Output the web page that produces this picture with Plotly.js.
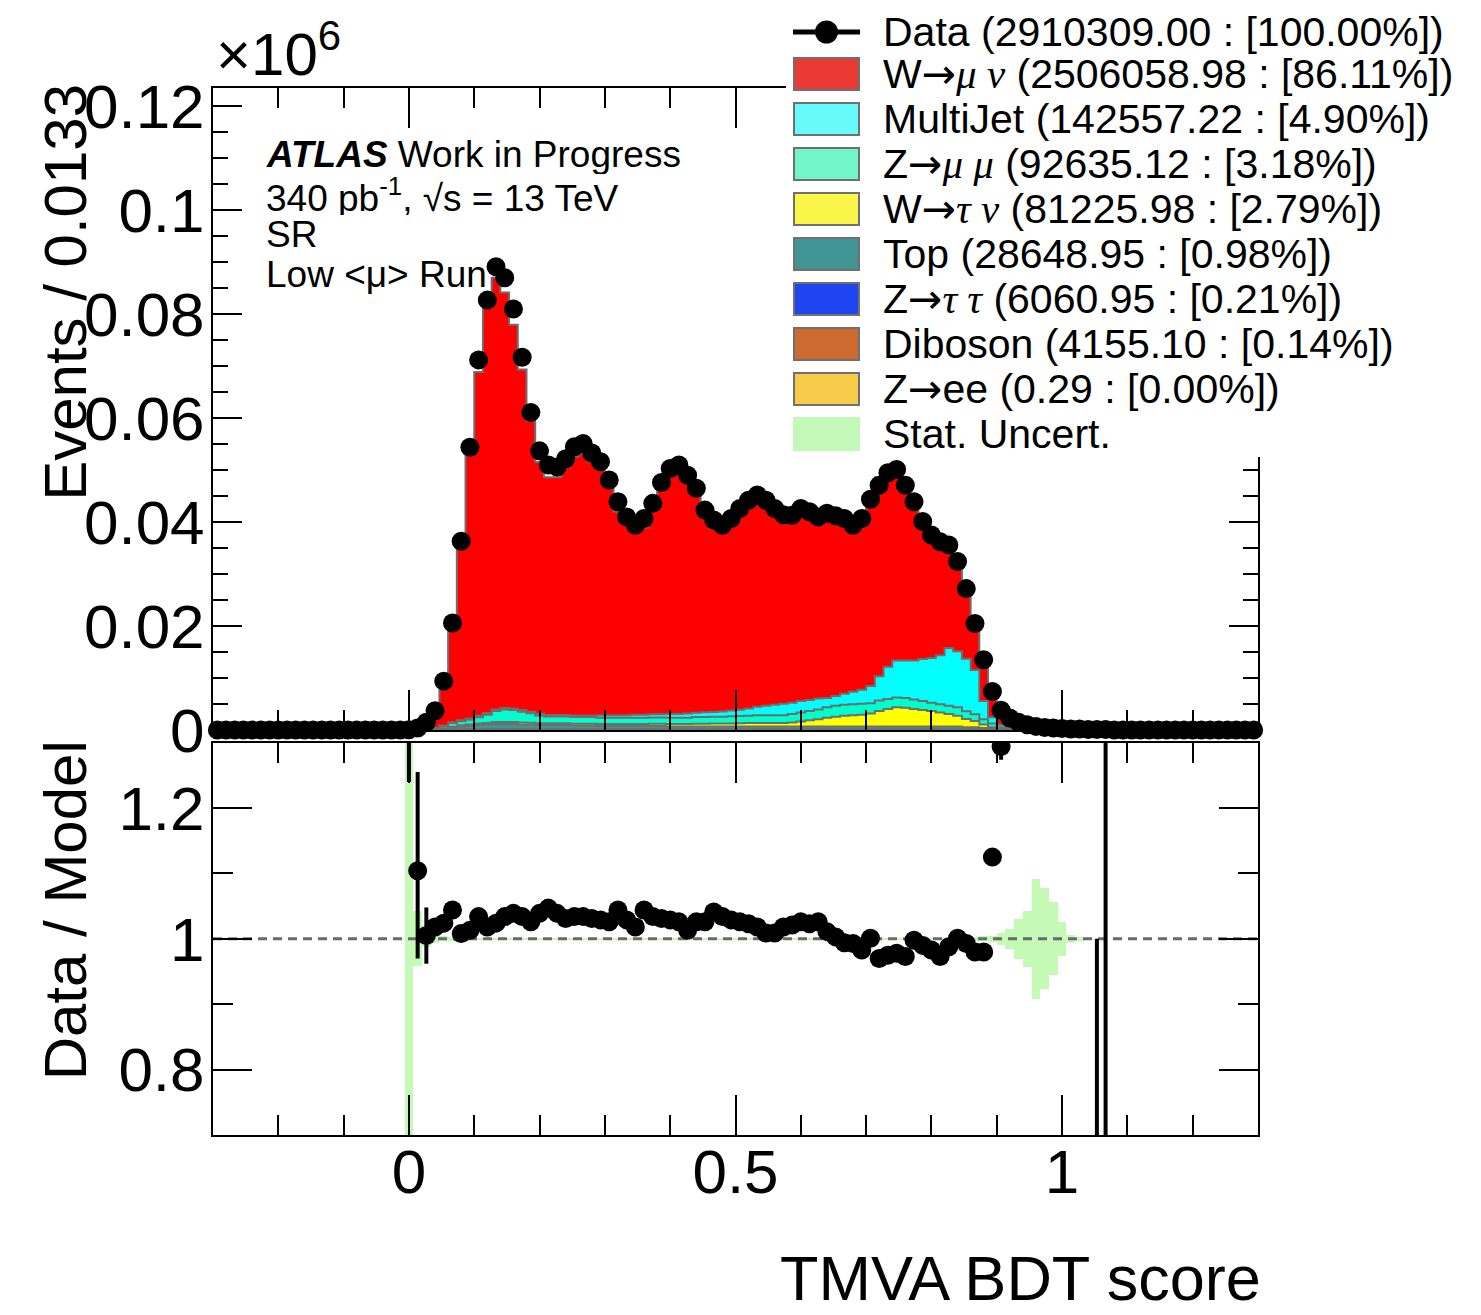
<!DOCTYPE html>
<html><head><meta charset="utf-8">
<script src="https://cdn.plot.ly/plotly-3.0.1.min.js"></script>
<style>body{margin:0;background:#fff}#chart{width:1481px;height:1315px}</style>
</head><body><div id="chart"></div>
<script>
// ---- binning ----
const xMin = -0.3, xMax = 1.3, nBins = 120;

// ---- data (events, in units of 10^6), one value per bin ----
const dataCounts = [
0,0,0,0,0,0,0,0,0,0,
0,0,0,0,0,0,0,0,0,0,
0,0,0.00005,0.0004,0.0015,0.0037,0.0094,0.0206,0.0363,0.0544,
0.0712,0.0827,0.0891,0.0870,0.0810,0.0717,0.0611,0.0537,0.0510,0.0506,
0.0522,0.0545,0.0551,0.0533,0.0516,0.0481,0.0439,0.0410,0.0394,0.0407,
0.0436,0.0476,0.0503,0.0510,0.0490,0.0465,0.0423,0.0404,0.0394,0.0407,
0.0426,0.0442,0.0452,0.0442,0.0426,0.0414,0.0413,0.0426,0.0420,0.0410,
0.0417,0.0412,0.0407,0.0394,0.0407,0.0444,0.0471,0.0495,0.0501,0.0471,
0.0439,0.0401,0.0375,0.0362,0.0356,0.0324,0.0272,0.0205,0.0135,0.0074,
0.0038,0.0023,0.0015,0.0010,0.0007,0.0005,0.0004,0.0003,0.0002,0.0002,
0.0001,0.0001,0.0001,0,0,0,0,0,0,0,
0,0,0,0,0,0,0,0,0,0];

// ---- MC components (units of 10^6) ----
const wmunu = [
0,0,0,0,0,0,0,0,0,0,
0,0,0,0,0,0,0,0,0,0,
0,0,0.00003,0.00031,0.00133,0.00321,0.00833,0.01825,0.03411,0.05147,
0.0661,0.07798,0.08307,0.0799,0.07382,0.06551,0.05604,0.04847,0.0457,0.04569,
0.04762,0.0498,0.05038,0.04879,0.04729,0.04402,0.03919,0.03698,0.03574,0.03602,
0.03916,0.04316,0.04582,0.04665,0.04521,0.04201,0.03782,0.03535,0.03454,0.03579,
0.03761,0.03905,0.03994,0.03915,0.03736,0.03561,0.03499,0.03566,0.035,0.0335,
0.03459,0.03452,0.03389,0.03232,0.03364,0.0359,0.0382,0.03861,0.03787,0.03505,
0.03063,0.02684,0.02429,0.02284,0.02027,0.01721,0.0137,0.00939,0.0082,0.00414,
0.00181,0.001,0.00057,0.00035,0.00015,0.0001,0.00007,0.00005,0.00003,0.00001,
0.000005,0.0002,0.00017,0,0,0,0,0,0,0,
0,0,0,0,0,0,0,0,0,0];
const multijet = [
0,0,0,0,0,0,0,0,0,0,
0,0,0,0,0,0,0,0,0,0,
0,0,0,0.00001,0.00003,0.00005,0.0001,0.00015,0.0002,0.00025,
0.0003,0.0003,0.0003,0.0003,0.0003,0.0003,0.0003,0.0003,0.0003,0.0003,
0.0003,0.0003,0.0003,0.0003,0.0005,0.0005,0.0005,0.0005,0.0006,0.0006,
0.0006,0.0006,0.0007,0.0007,0.0008,0.0008,0.0009,0.0009,0.001,0.0011,
0.0012,0.0014,0.0016,0.0018,0.002,0.0022,0.0022,0.0022,0.0021,0.0021,
0.0018,0.0019,0.0021,0.0024,0.0027,0.0033,0.0047,0.0062,0.0071,0.0072,
0.0075,0.0081,0.0086,0.0094,0.0111,0.0108,0.0101,0.0085,0.0035,0.0012,
0.0005,0.0003,0.0002,0.0001,0.00005,0.00002,0,0,0,0,
0,0,0,0,0,0,0,0,0,0,
0,0,0,0,0,0,0,0,0,0];
const zmumu = [
0,0,0,0,0,0,0,0,0,0,
0,0,0,0,0,0,0,0,0,0,
0,0,0,0.00002,0.00008,0.0002,0.0004,0.0007,0.0008,0.0009,
0.0012,0.0016,0.0021,0.0024,0.0023,0.0021,0.0018,0.0015,0.0013,0.0013,
0.0013,0.0013,0.0013,0.0013,0.0012,0.0012,0.0012,0.0012,0.0012,0.0012,
0.0012,0.0012,0.0012,0.0012,0.0012,0.0013,0.0013,0.0013,0.0013,0.0014,
0.0014,0.0014,0.0015,0.0015,0.0015,0.0015,0.0016,0.0017,0.0018,0.0019,
0.002,0.0021,0.0021,0.0021,0.0021,0.002,0.002,0.0019,0.0019,0.0019,
0.0018,0.0017,0.0016,0.0016,0.0016,0.0016,0.0015,0.0013,0.001,0.0007,
0.0003,0.0002,0.0001,0.00005,0,0,0,0,0,0,
0,0,0,0,0,0,0,0,0,0,
0,0,0,0,0,0,0,0,0,0];
const wtaunu = [
0,0,0,0,0,0,0,0,0,0,
0,0,0,0,0,0,0,0,0,0,
0,0,0,0,0,0.00005,0.0001,0.00015,0.0002,0.00025,
0.0003,0.0003,0.00035,0.00035,0.00035,0.00035,0.00035,0.00035,0.00035,0.00035,
0.00035,0.00035,0.00035,0.00035,0.0004,0.0004,0.0004,0.0004,0.0004,0.0004,
0.00045,0.00045,0.0005,0.0005,0.0005,0.00055,0.00055,0.0006,0.0006,0.0006,
0.00065,0.0007,0.0007,0.0007,0.0007,0.0007,0.0008,0.001,0.0012,0.0014,
0.0017,0.0019,0.0021,0.0022,0.0023,0.0025,0.003,0.0034,0.0037,0.0036,
0.0034,0.0032,0.003,0.0027,0.0024,0.0021,0.0016,0.0012,0.0007,0.0003,
0.0001,0.00005,0,0,0,0,0,0,0,0,
0,0,0,0,0,0,0,0,0,0,
0,0,0,0,0,0,0,0,0,0];
const topq = [
0,0,0,0,0,0,0,0,0,0,
0,0,0,0,0,0,0,0,0,0,
0,0,0,0.00002,0.00005,0.0001,0.0002,0.0004,0.0006,0.0007,
0.0008,0.0009,0.001,0.001,0.001,0.0009,0.0009,0.0008,0.0008,0.0008,
0.0008,0.0007,0.0007,0.0007,0.0006,0.0006,0.0006,0.0006,0.0006,0.0006,
0.0006,0.0006,0.0005,0.0005,0.0005,0.0005,0.0005,0.0005,0.0005,0.0005,
0.0005,0.0005,0.0005,0.0005,0.0005,0.0005,0.0005,0.0005,0.0005,0.0005,
0.0005,0.0005,0.0005,0.0005,0.0005,0.0005,0.0005,0.0005,0.0005,0.0005,
0.0005,0.0005,0.0005,0.0005,0.0005,0.0005,0.0004,0.0004,0.0003,0.0002,
0.0001,0.00005,0.00003,0,0,0,0,0,0,0,
0,0,0,0,0,0,0,0,0,0,
0,0,0,0,0,0,0,0,0,0];
const ztautau = [
0,0,0,0,0,0,0,0,0,0,
0,0,0,0,0,0,0,0,0,0,
0,0,0,0,0,0.00001,0.00003,0.00005,0.00006,0.00008,
0.0001,0.0001,0.00012,0.00012,0.00012,0.00011,0.0001,0.0001,0.0001,0.0001,
0.0001,0.0001,0.0001,0.0001,0.0001,0.0001,0.0001,0.0001,0.0001,0.0001,
0.0001,0.0001,0.0001,0.0001,0.0001,0.0001,0.0001,0.0001,0.0001,0.0001,
0.0001,0.0001,0.0001,0.0001,0.0001,0.0001,0.0001,0.0001,0.0001,0.0001,
0.0001,0.0001,0.0001,0.0001,0.0001,0.0001,0.0001,0.0001,0.0001,0.0001,
0.0001,0.0001,0.0001,0.0001,0.0001,0.0001,0.00008,0.00008,0.00005,0.00003,
0.00001,0,0,0,0,0,0,0,0,0,
0,0,0,0,0,0,0,0,0,0,
0,0,0,0,0,0,0,0,0,0];
const diboson = [
0,0,0,0,0,0,0,0,0,0,
0,0,0,0,0,0,0,0,0,0,
0,0,0,0,0,0.00001,0.00002,0.00003,0.00004,0.00005,
0.00006,0.00006,0.00007,0.00007,0.00007,0.00007,0.00006,0.00006,0.00006,0.00006,
0.00006,0.00006,0.00006,0.00006,0.00006,0.00006,0.00006,0.00006,0.00006,0.00006,
0.00006,0.00006,0.00006,0.00006,0.00006,0.00006,0.00006,0.00006,0.00006,0.00006,
0.00006,0.00006,0.00006,0.00006,0.00006,0.00006,0.00006,0.00006,0.00006,0.00006,
0.00006,0.00006,0.00006,0.00006,0.00006,0.00006,0.00006,0.00006,0.00006,0.00006,
0.00006,0.00006,0.00006,0.00006,0.00006,0.00006,0.00005,0.00005,0.00003,0.00001,
0.00001,0,0,0,0,0,0,0,0,0,
0,0,0,0,0,0,0,0,0,0,
0,0,0,0,0,0,0,0,0,0];
const zee = [
0,0,0,0,0,0,0,0,0,0, 0,0,0,0,0,0,0,0,0,0, 0,0,0,0,0,0,0,0,0,0,
0,0,0,0,0,0,0,0,0,0, 0,0,0,0,0,0,0,0,0,0, 0,0,0,0,0,0,0,0,0,0,
0,0,0,0,0,0,0,0,0,0, 0,0,0,0,0,0,0,0,0,0, 0,0,0,0,0,0,0,0,0,0,
0,0,0,0,0,0,0,0,0,0, 0,0,0,0,0,0,0,0,0,0, 0,0,0,0,0,0,0,0,0,0];

// ---- ratio panel ----
const ratioVals = [
null,null,null,null,null,null,null,null,null,null,
null,null,null,null,null,null,null,null,null,null,
null,null,1.6,1.104,1.005,1.018,1.024,1.044,1.008,1.013,
1.034,1.018,1.024,1.034,1.039,1.034,1.026,1.039,1.047,1.039,
1.031,1.034,1.034,1.031,1.029,1.026,1.044,1.029,1.018,1.044,
1.034,1.031,1.029,1.026,1.013,1.026,1.026,1.041,1.034,1.029,
1.026,1.023,1.018,1.009,1.009,1.018,1.021,1.026,1.023,1.026,
1.011,1.003,0.994,0.993,0.983,1.001,0.970,0.975,0.978,0.973,
0.998,0.990,0.983,0.973,0.988,1.001,0.993,0.980,0.980,1.125,
1.294,1.44,1.67,2.0,3.5,4.2,5.7,6.0,6.7,20,
20,0.5,0.6,null,null,null,null,null,null,null,
null,null,null,null,null,null,null,null,null,null];
const ratioErrUp = [
0,0,0,0,0,0,0,0,0,0, 0,0,0,0,0,0,0,0,0,0,
0,0,0.4,0.151,0.043,0.012,0.006,0.004,0.002,0.002,
0.002,0.002,0.002,0.002,0.002,0.002,0.002,0.002,0.002,0.002,
0.002,0.002,0.002,0.002,0.002,0.002,0.002,0.002,0.002,0.002,
0.002,0.002,0.002,0.002,0.002,0.002,0.002,0.002,0.002,0.002,
0.002,0.002,0.002,0.002,0.002,0.002,0.002,0.002,0.002,0.002,
0.002,0.002,0.002,0.002,0.002,0.002,0.002,0.002,0.002,0.002,
0.002,0.002,0.002,0.002,0.002,0.002,0.002,0.002,0.002,0.01,
0.02,0,0,0,0,0,0,0,0,0,
0,0.5,0.8,0,0,0,0,0,0,0, 0,0,0,0,0,0,0,0,0,0];
const ratioErrDown = [
0,0,0,0,0,0,0,0,0,0, 0,0,0,0,0,0,0,0,0,0,
0,0,0.36,0.134,0.043,0.012,0.006,0.004,0.002,0.002,
0.002,0.002,0.002,0.002,0.002,0.002,0.002,0.002,0.002,0.002,
0.002,0.002,0.002,0.002,0.002,0.002,0.002,0.002,0.002,0.002,
0.002,0.002,0.002,0.002,0.002,0.002,0.002,0.002,0.002,0.002,
0.002,0.002,0.002,0.002,0.002,0.002,0.002,0.002,0.002,0.002,
0.002,0.002,0.002,0.002,0.002,0.002,0.002,0.002,0.002,0.002,
0.002,0.002,0.002,0.002,0.002,0.002,0.002,0.002,0.002,0.01,
0.02,0,0,0,0,0,0,0,0,0,
0,0.5,0.6,0,0,0,0,0,0,0, 0,0,0,0,0,0,0,0,0,0];
const statErr = [
0,0,0,0,0,0,0,0,0,0, 0,0,0,0,0,0,0,0,0,0,
0,0,0.5,0.042,0.012,0.006,0.004,0.003,0.002,0.002,
0.002,0.002,0.002,0.002,0.002,0.002,0.002,0.002,0.002,0.002,
0.002,0.002,0.002,0.002,0.002,0.002,0.002,0.002,0.002,0.002,
0.002,0.002,0.002,0.002,0.002,0.002,0.002,0.002,0.002,0.002,
0.002,0.002,0.002,0.002,0.002,0.002,0.002,0.002,0.002,0.002,
0.002,0.002,0.002,0.002,0.002,0.002,0.002,0.002,0.002,0.002,
0.002,0.002,0.002,0.002,0.002,0.002,0.002,0.003,0.004,0.005,
0.009,0.015,0.031,0.043,0.092,0.077,0.056,0.026,0.006,0.003,
0.001,0,0,0,0,0,0,0,0,0, 0,0,0,0,0,0,0,0,0,0];

// ---- legend labels (top to bottom) ----
const ARROW = '<span style="font-family:\'DejaVu Sans\'">→</span>';
const greek = s => '<span style="font-family:\'Liberation Serif\'"><i>' + s + '</i></span>';
const legendLabels = [
  'Data (2910309.00 : [100.00%])',
  'W' + ARROW + greek('μ ν') + ' (2506058.98 : [86.11%])',
  'MultiJet (142557.22 : [4.90%])',
  'Z' + ARROW + greek('μ μ') + ' (92635.12 : [3.18%])',
  'W' + ARROW + greek('τ ν') + ' (81225.98 : [2.79%])',
  'Top (28648.95 : [0.98%])',
  'Z' + ARROW + greek('τ τ') + ' (6060.95 : [0.21%])',
  'Diboson (4155.10 : [0.14%])',
  'Z' + ARROW + 'ee (0.29 : [0.00%])',
  'Stat. Uncert.'
];
const legendSwatchColors = ['black', '#ea3a33', '#66fafa', '#72f5c8', '#fbf54a', '#409494', '#1f45f0', '#cd6a30', '#f7cb4a', '#c4f8b8'];

// ---------------- build ----------------
const FONT = '"Liberation Sans", Arial, Helvetica, sans-serif';
const W = 1481, H = 1315, M = {l: 213, r: 223, t: 88, b: 180};
const plotW = W - M.l - M.r, plotH = H - M.t - M.b;
const px2x = px => (px - M.l) / plotW;          // page pixel -> paper x
const px2y = py => 1 - (py - M.t) / plotH;      // page pixel -> paper y

const binW = (xMax - xMin) / nBins;
const centers = [], edges = [];
for (let i = 0; i < nBins; i++) { centers.push(xMin + (i + 0.5) * binW); edges.push(xMin + i * binW); }
edges.push(xMax);

// stack bottom -> top
const stack = [
  {vals: zee,      name: 'Z→ee',     color: '#f7cb45'},
  {vals: diboson,  name: 'Diboson',  color: '#cc6633'},
  {vals: ztautau,  name: 'Z→ττ',     color: '#1f3cf5'},
  {vals: topq,     name: 'Top',      color: '#3d9696'},
  {vals: wtaunu,   name: 'W→τν',     color: '#ffff00'},
  {vals: zmumu,    name: 'Z→μμ',     color: '#00ffcc'},
  {vals: multijet, name: 'MultiJet', color: '#00ffff'},
  {vals: wmunu,    name: 'W→μν',     color: '#ff0000'}
];
const traces = [];
let cum = new Array(nBins).fill(0);
stack.forEach((s, k) => {
  cum = cum.map((c, i) => c + s.vals[i]);
  const y = cum.slice(); y.push(cum[nBins - 1]);
  traces.push({
    type: 'scatter', mode: 'lines', x: edges, y: y, xaxis: 'x', yaxis: 'y',
    line: {shape: 'hv', color: '#6e6e6e', width: 2},
    fill: k === 0 ? 'tozeroy' : 'tonexty', fillcolor: s.color,
    name: s.name, hoverinfo: 'skip'
  });
});
traces.push({
  type: 'scatter', mode: 'markers', x: centers, y: dataCounts, xaxis: 'x', yaxis: 'y',
  marker: {color: 'black', size: 19}, cliponaxis: false, name: 'Data', hoverinfo: 'skip'
});
traces.push({
  type: 'bar', x: centers, y: statErr.map(e => 2 * e), base: statErr.map(e => 1 - e),
  width: binW, xaxis: 'x2', yaxis: 'y2',
  marker: {color: '#c4f9b6', line: {width: 0}}, name: 'Stat. Uncert.', hoverinfo: 'skip'
});
traces.push({
  type: 'scatter', mode: 'lines', x: [xMin, xMax], y: [1, 1], xaxis: 'x2', yaxis: 'y2',
  line: {color: '#6a6a6a', width: 3, dash: '9px,6px'}, name: 'unity', hoverinfo: 'skip'
});
traces.push({
  type: 'scatter', mode: 'markers', x: centers, y: ratioVals, xaxis: 'x2', yaxis: 'y2',
  marker: {color: 'black', size: 19},
  error_y: {type: 'data', symmetric: false, array: ratioErrUp, arrayminus: ratioErrDown,
            color: 'black', thickness: 4, width: 0},
  name: 'Data / Model', hoverinfo: 'skip'
});

// ---- legend drawn as a box of swatches + text ----
const shapes = [];
const annotations = [];
shapes.push({type: 'rect', xref: 'paper', yref: 'paper', layer: 'above',
  x0: px2x(786), x1: px2x(W), y0: px2y(0), y1: px2y(457), fillcolor: 'white', line: {width: 0}});
const rowY = [32, 74, 119, 164, 209, 254, 299, 344, 389, 434];
legendLabels.forEach((lab, k) => {
  const cy = rowY[k];
  if (k === 0) {
    shapes.push({type: 'line', xref: 'paper', yref: 'paper', layer: 'above',
      x0: px2x(793), x1: px2x(860), y0: px2y(cy), y1: px2y(cy), line: {color: 'black', width: 5}});
    shapes.push({type: 'circle', xref: 'paper', yref: 'paper', layer: 'above',
      x0: px2x(815), x1: px2x(838), y0: px2y(cy - 11.5), y1: px2y(cy + 11.5), fillcolor: 'black', line: {width: 0}});
  } else {
    shapes.push({type: 'rect', xref: 'paper', yref: 'paper', layer: 'above',
      x0: px2x(794), x1: px2x(859), y0: px2y(cy - 16), y1: px2y(cy + 16),
      fillcolor: legendSwatchColors[k],
      line: {color: k === 9 ? legendSwatchColors[k] : '#707070', width: 2}});
  }
  annotations.push({xref: 'paper', yref: 'paper', x: px2x(882), xanchor: 'left', y: px2y(cy), yanchor: 'middle',
    height: 44, borderpad: 0, text: lab, showarrow: false, font: {size: 41, family: FONT, color: 'black'}});
});

annotations.push(
  {xref: 'paper', yref: 'paper', x: 0.001, xanchor: 'left', y: 0.998, yanchor: 'bottom',
   text: '×10<sup>6</sup>', showarrow: false, font: {size: 60}},
  {xref: 'paper', yref: 'paper', x: -0.141, xanchor: 'center', y: 1.006, yanchor: 'top',
   text: 'Events / 0.0133', textangle: -90, showarrow: false, font: {size: 60}},
  {xref: 'paper', yref: 'paper', x: -0.141, xanchor: 'center', y: 0.3785, yanchor: 'top',
   text: 'Data / Model', textangle: -90, showarrow: false, font: {size: 60}},
  {xref: 'paper', yref: 'paper', x: px2x(1263), xanchor: 'right', y: px2y(1315), yanchor: 'bottom',
   text: 'TMVA BDT score', showarrow: false, font: {size: 63}},
  {xref: 'paper', yref: 'paper', x: 0.0495, xanchor: 'left', y: px2y(154), yanchor: 'middle', height: 39, borderpad: 0,
   text: '<b><i>ATLAS</i></b> Work in Progress', showarrow: false, font: {size: 37}},
  {xref: 'paper', yref: 'paper', x: 0.0495, xanchor: 'left', y: px2y(195), yanchor: 'middle', height: 39, borderpad: 0,
   text: '340 pb<sup>-1</sup>, √s = 13 TeV', showarrow: false, font: {size: 37}},
  {xref: 'paper', yref: 'paper', x: 0.0495, xanchor: 'left', y: px2y(235), yanchor: 'middle', height: 39, borderpad: 0,
   text: 'SR', showarrow: false, font: {size: 37}},
  {xref: 'paper', yref: 'paper', x: 0.0495, xanchor: 'left', y: px2y(274), yanchor: 'middle', height: 39, borderpad: 0,
   text: 'Low &lt;μ&gt; Run', showarrow: false, font: {size: 37}}
);

const axCommon = {
  showline: true, linewidth: 2, linecolor: 'black', mirror: 'allticks',
  ticks: 'inside', tickwidth: 2, tickcolor: 'black', showgrid: false, zeroline: false,
  tickfont: {size: 62, family: FONT, color: 'black'}
};
const layout = {
  width: W, height: H, margin: M,
  paper_bgcolor: 'white', plot_bgcolor: 'rgba(0,0,0,0)',
  font: {family: FONT, color: 'black', size: 40},
  bargap: 0, showlegend: false, hovermode: false,
  xaxis: Object.assign({}, axCommon, {
    domain: [0, 1], anchor: 'y', range: [xMin, xMax], matches: 'x2',
    showticklabels: false, tick0: 0, dtick: 0.5, ticklen: 40,
    minor: {tick0: 0, dtick: 0.1, ticks: 'inside', ticklen: 20, tickwidth: 2, tickcolor: 'black', showgrid: false}
  }),
  yaxis: Object.assign({}, axCommon, {
    domain: [0.3868, 1], anchor: 'x', range: [0, 0.1235], tick0: 0, dtick: 0.02, ticklen: 29,
    ticklabelstandoff: -6,
    minor: {tick0: 0, dtick: 0.005, ticks: 'inside', ticklen: 15, tickwidth: 2, tickcolor: 'black', showgrid: false}
  }),
  xaxis2: Object.assign({}, axCommon, {
    domain: [0, 1], anchor: 'y2', range: [xMin, xMax], tick0: 0, dtick: 0.5, ticklen: 40,
    ticklabelstandoff: -18,
    minor: {tick0: 0, dtick: 0.1, ticks: 'inside', ticklen: 20, tickwidth: 2, tickcolor: 'black', showgrid: false}
  }),
  yaxis2: Object.assign({}, axCommon, {
    domain: [0, 0.3747], anchor: 'x2', range: [0.7, 1.3],
    tickvals: [0.8, 1, 1.2], ticktext: ['0.8', '1', '1.2'], ticklen: 39,
    ticklabelstandoff: -6,
    minor: {tickvals: [0.7, 0.9, 1.1, 1.3], ticks: 'inside', ticklen: 20, tickwidth: 2, tickcolor: 'black', showgrid: false}
  }),
  shapes: shapes,
  annotations: annotations
};
Plotly.newPlot('chart', traces, layout, {displayModeBar: false, staticPlot: true});
</script>
</body></html>
